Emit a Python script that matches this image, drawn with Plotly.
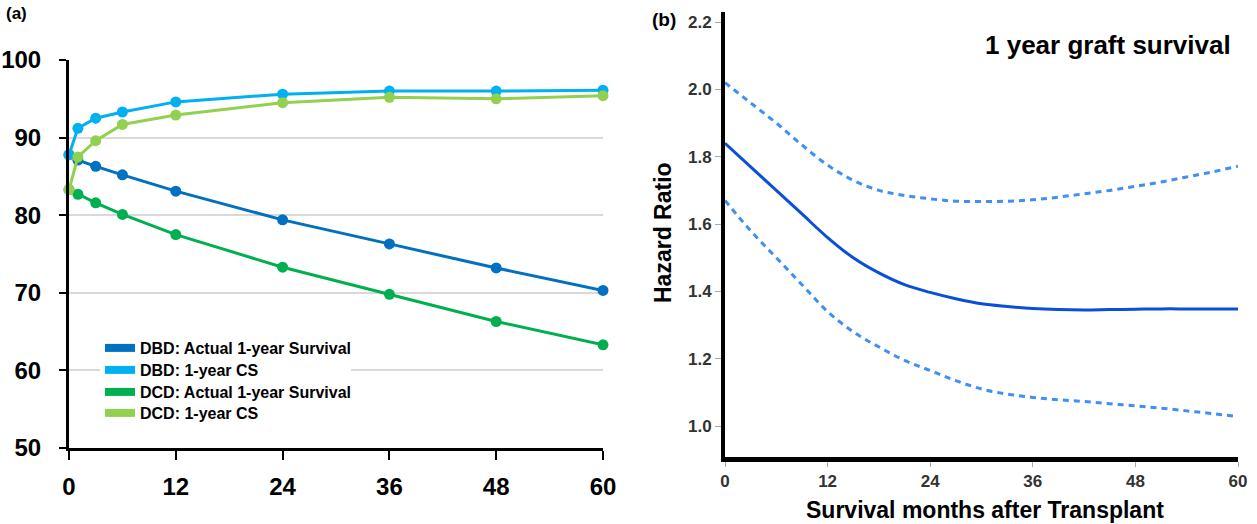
import plotly.graph_objects as go

W, H = 1257, 524

# ---------------- Panel (a) data ----------------
months_a = [0, 1, 3, 6, 12, 24, 36, 48, 60]
dbd_actual = [87.8, 87.1, 86.3, 85.2, 83.1, 79.4, 76.3, 73.2, 70.3]
dbd_cs = [87.8, 91.2, 92.5, 93.3, 94.6, 95.6, 96.0, 96.0, 96.1]
dcd_actual = [83.3, 82.7, 81.6, 80.1, 77.5, 73.3, 69.8, 66.3, 63.3]
dcd_cs = [83.3, 87.5, 89.6, 91.7, 92.9, 94.5, 95.2, 95.0, 95.4]
series_names = ["DBD: Actual 1-year Survival", "DBD: 1-year CS",
                "DCD: Actual 1-year Survival", "DCD: 1-year CS"]
series_colors = ["#0070C0", "#00B0F0", "#00B050", "#92D050"]
a_xticks = [0, 12, 24, 36, 48, 60]
a_yticks = [50, 60, 70, 80, 90, 100]

# ---------------- Panel (b) data ----------------
months_b = [0, 3, 6, 9, 12, 15, 18, 21, 24, 27, 30, 33, 36, 39, 42, 45, 48, 51, 54, 57, 60]
hr_mean = [1.84, 1.77, 1.70, 1.63, 1.56, 1.50, 1.455, 1.42, 1.397, 1.378, 1.363,
           1.355, 1.349, 1.346, 1.345, 1.346, 1.347, 1.348, 1.348, 1.348, 1.348]
hr_upper = [2.02, 1.96, 1.90, 1.835, 1.775, 1.73, 1.70, 1.685, 1.675, 1.668, 1.667,
            1.668, 1.672, 1.68, 1.69, 1.70, 1.712, 1.725, 1.74, 1.755, 1.772]
hr_lower = [1.67, 1.58, 1.50, 1.42, 1.34, 1.28, 1.235, 1.195, 1.165, 1.135, 1.11,
            1.095, 1.085, 1.078, 1.073, 1.066, 1.06, 1.053, 1.045, 1.037, 1.028]
b_xticks = [0, 12, 24, 36, 48, 60]
b_yticks = [1.0, 1.2, 1.4, 1.6, 1.8, 2.0, 2.2]

FONT = "Liberation Sans, Arial, sans-serif"

fig = go.Figure()

series_a = [dbd_actual, dbd_cs, dcd_actual, dcd_cs]
for name, vals, col in zip(series_names, series_a, series_colors):
    fig.add_trace(go.Scatter(
        x=months_a, y=vals, mode="lines+markers", xaxis="x", yaxis="y",
        line=dict(color=col, width=3), marker=dict(color=col, size=11),
        showlegend=False, cliponaxis=False, name=name))

# legend proxies (thick bar samples), one small legend per row for exact spacing.
# Row 2 uses the first-drawn legend (white box hiding the gridline behind it).
legend_ids = ["legend2", "legend", "legend3", "legend4"]
row_y = [348, 370, 392, 413]
for name, col, lg in zip(series_names, series_colors, legend_ids):
    fig.add_trace(go.Scatter(
        x=[None], y=[None], mode="lines", xaxis="x", yaxis="y",
        line=dict(color=col, width=8), name=name, showlegend=True, legend=lg))

# panel (b)
fig.add_trace(go.Scatter(x=months_b, y=hr_upper, mode="lines", xaxis="x2", yaxis="y2",
                         line=dict(color="#3f8ff5", width=3, dash="6px,5px", shape="spline"),
                         showlegend=False, name="Upper CI"))
fig.add_trace(go.Scatter(x=months_b, y=hr_lower, mode="lines", xaxis="x2", yaxis="y2",
                         line=dict(color="#3f8ff5", width=3, dash="6px,5px", shape="spline"),
                         showlegend=False, name="Lower CI"))
fig.add_trace(go.Scatter(x=months_b, y=hr_mean, mode="lines", xaxis="x2", yaxis="y2",
                         line=dict(color="#0a50d6", width=3, shape="spline"),
                         showlegend=False, name="Hazard Ratio"))

legends = {}
for lg, ry in zip(legend_ids, row_y):
    legends[lg] = dict(x=100 / W, y=1 - ry / H, xanchor="left", yanchor="middle",
                       orientation="h", entrywidth=206, entrywidthmode="pixels",
                       bgcolor="white" if lg == "legend" else "rgba(255,255,255,0)",
                       borderwidth=0, itemwidth=30,
                       font=dict(family=FONT, size=16, color="black", weight="bold"))

fig.update_layout(
    width=W, height=H,
    margin=dict(l=0, r=0, t=0, b=0),
    paper_bgcolor="white", plot_bgcolor="white",
    font=dict(family=FONT, color="black"),
    xaxis=dict(domain=[69 / W, 603 / W], range=[0, 60], tickvals=a_xticks,
               showgrid=False, zeroline=False, showline=True, linecolor="black", linewidth=3,
               ticks="outside", ticklen=9, tickwidth=2, tickcolor="black",
               ticklabelstandoff=6, automargin=False,
               tickfont=dict(family=FONT, size=24, color="black", weight="bold"),
               anchor="y", fixedrange=True),
    yaxis=dict(domain=[1 - 448 / H, 1 - 60 / H], range=[50, 100], tickvals=a_yticks,
               showgrid=True, gridcolor="#d9d9d9", gridwidth=2, zeroline=False,
               showline=True, linecolor="black", linewidth=3,
               ticks="outside", ticklen=7, tickwidth=2, tickcolor="black",
               ticklabelstandoff=13, automargin=False,
               tickfont=dict(family=FONT, size=24, color="black", weight="bold"),
               anchor="x", fixedrange=True),
    xaxis2=dict(domain=[725 / W, 1238 / W], range=[0, 60], tickvals=b_xticks,
                showgrid=False, zeroline=False, showline=True, linecolor="black", linewidth=5,
                ticks="outside", ticklen=5, tickwidth=1, tickcolor="#aaaaaa",
                automargin=False,
                tickfont=dict(family=FONT, size=17, color="#333333", weight="bold"),
                anchor="y2", fixedrange=True),
    yaxis2=dict(domain=[1 - 457 / H, 1 - 12 / H], range=[0.908, 2.23], tickvals=b_yticks,
                tickformat=".1f",
                showgrid=False, zeroline=False, showline=True, linecolor="black", linewidth=4,
                ticks="outside", ticklen=6, tickwidth=1, tickcolor="#aaaaaa",
                automargin=False,
                tickfont=dict(family=FONT, size=17, color="#333333", weight="bold"),
                anchor="x2", fixedrange=True),
    annotations=[
        dict(text="(a)", x=4 / W, y=1 - 13 / H, xref="paper", yref="paper",
             xanchor="left", yanchor="middle", showarrow=False,
             font=dict(family=FONT, size=17, weight="bold", color="black")),
        dict(text="(b)", x=650 / W, y=1 - 20 / H, xref="paper", yref="paper",
             xanchor="left", yanchor="middle", showarrow=False,
             font=dict(family=FONT, size=19, weight="bold", color="black")),
        dict(text="1 year graft survival", x=1233 / W, y=1 - 45 / H, xref="paper", yref="paper",
             xanchor="right", yanchor="middle", showarrow=False,
             font=dict(family=FONT, size=26, weight="bold", color="black")),
        dict(text="Hazard Ratio", x=663 / W, y=1 - 233 / H, xref="paper", yref="paper",
             xanchor="center", yanchor="middle", showarrow=False, textangle=-90,
             font=dict(family=FONT, size=23, weight="bold", color="black")),
        dict(text="Survival months after Transplant", x=985 / W, y=1 - 510 / H,
             xref="paper", yref="paper", xanchor="center", yanchor="middle", showarrow=False,
             font=dict(family=FONT, size=23, weight="bold", color="black")),
    ],
    **legends,
)

fig.write_html("out.html", config={"displayModeBar": False},
               post_script="document.body.style.margin='0';document.body.style.padding='0';")
